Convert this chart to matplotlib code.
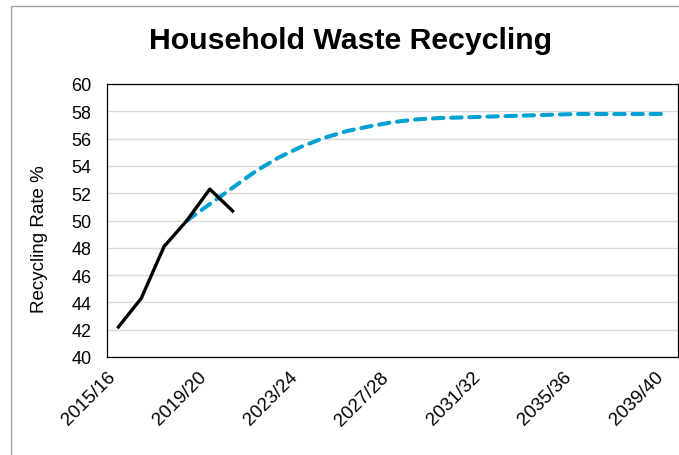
import numpy as np
import matplotlib
matplotlib.use('Agg')
import matplotlib.pyplot as plt
from matplotlib.patches import Rectangle

plt.rcParams['font.family'] = ['Liberation Sans', 'DejaVu Sans']

# данные
categories = ['2015/16', '2016/17', '2017/18', '2018/19', '2019/20', '2020/21',
              '2021/22', '2022/23', '2023/24', '2024/25', '2025/26', '2026/27',
              '2027/28', '2028/29', '2029/30', '2030/31', '2031/32', '2032/33',
              '2033/34', '2034/35', '2035/36', '2036/37', '2037/38', '2038/39',
              '2039/40']
actual = [42.2, 44.3, 48.1, 50.0, 52.3, 50.7]
proj_start = 3  # прогноз начинается с 2018/19
projected = [50.0, 51.2, 52.4, 53.6, 54.6, 55.4, 56.05, 56.55, 56.9, 57.2,
             57.4, 57.5, 57.55, 57.6, 57.65, 57.7, 57.75, 57.8, 57.8, 57.8,
             57.8, 57.8]
tick_idx = [0, 4, 8, 12, 16, 20, 24]
y_ticks = list(range(40, 61, 2))

fig = plt.figure(figsize=(6.79, 4.56), dpi=100)
ax = fig.add_axes([107 / 679, 1 - 358 / 456, 571 / 679, 273 / 456])

# рамка области диаграммы
fig.patches.append(Rectangle((11 / 679, -0.2), 2, 1.2 - 7 / 456,
                             transform=fig.transFigure, fill=False,
                             edgecolor='#a0a0a0', linewidth=1.0))

x_act = np.arange(len(actual))
x_proj = np.arange(proj_start, proj_start + len(projected))

ax.plot(x_proj, projected, color='#00a0d2', linewidth=2.9,
        linestyle=(0, (2.6, 1.9)), dash_capstyle='round', zorder=3)
ax.plot(x_act, actual, color='black', linewidth=2.4, zorder=4)

ax.set_xlim(-0.5, len(categories) - 0.5)
ax.set_ylim(40, 60)
ax.set_yticks(y_ticks)
ax.set_xticks(tick_idx)
ax.set_xticklabels([categories[i] for i in tick_idx], rotation=45,
                   ha='right', fontsize=13.5)
ax.tick_params(axis='x', length=0, pad=8)
ax.tick_params(axis='y', length=0, pad=11, labelsize=13)

ax.yaxis.grid(True, color='#d9d9d9', linewidth=1.0)
ax.set_axisbelow(True)
for sp in ax.spines.values():
    sp.set_color('black')
    sp.set_linewidth(0.9)

ax.set_ylabel('Recycling Rate %', fontsize=13.5)
ax.yaxis.set_label_coords(-0.104, 0.436)

fig.text(351 / 679, 1 - 41 / 456, 'Household Waste Recycling',
         fontsize=21.8, fontweight='bold', ha='center', va='center')

fig.savefig('out.png', dpi=100)
